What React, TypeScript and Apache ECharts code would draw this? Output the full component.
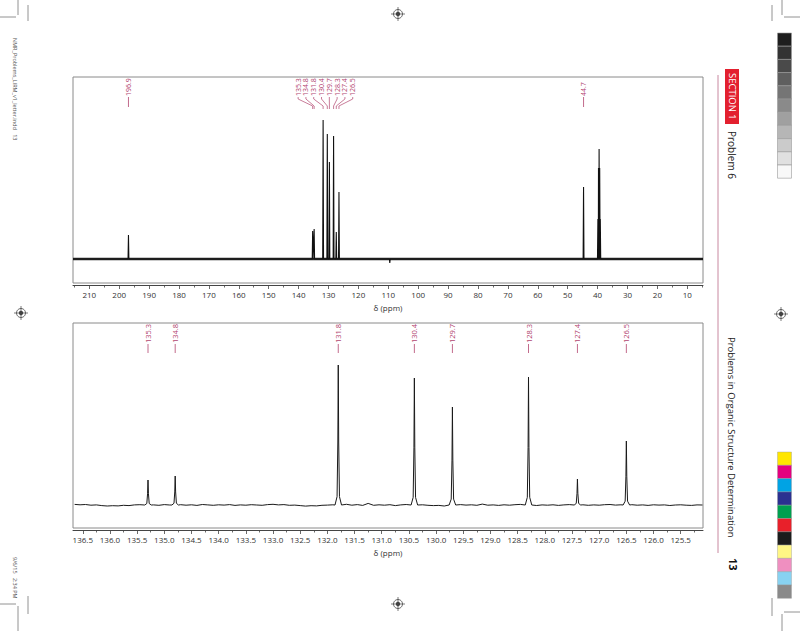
import React, { useEffect, useRef } from "react";
import * as echarts from "echarts";

// ---------- axis ticks ----------
const topTickLabels = [210, 200, 190, 180, 170, 160, 150, 140, 130, 120, 110, 100, 90, 80, 70, 60, 50, 40, 30, 20, 10];
const topMinorTicks = [215, 205, 195, 185, 175, 165, 155, 145, 135, 125, 115, 105, 95, 85, 75, 65, 55, 45, 35, 25, 15, 5];
const bottomTickLabels = [136.5, 136.0, 135.5, 135.0, 134.5, 134.0, 133.5, 133.0, 132.5, 132.0, 131.5, 131.0, 130.5, 130.0, 129.5, 129.0, 128.5, 128.0, 127.5, 127.0, 126.5, 126.0, 125.5];
const bottomMinorTicks = [136.25, 135.75, 135.25, 134.75, 134.25, 133.75, 133.25, 132.75, 132.25, 131.75, 131.25, 130.75, 130.25, 129.75, 129.25, 128.75, 128.25, 127.75, 127.25, 126.75, 126.25, 125.75, 125.25];

// ---------- full spectrum (top) ----------
const topPeakPpm = [196.9, 135.3, 134.8, 131.8, 130.4, 129.7, 128.3, 127.4, 126.5, 109.5, 44.7, 39.9, 39.7, 39.5, 39.3, 39.1];
const topPeakHeight = [24, 28, 30, 139, 125, 97, 123, 27, 67, -4, 72, 40, 91, 110, 91, 40];
const topLabelGroups = [[196.9], [135.3, 134.8, 131.8, 130.4, 129.7, 128.3, 127.4, 126.5], [44.7]];

// ---------- expansion (bottom) ----------
const bottomPeakPpm = [135.3, 134.8, 131.8, 130.4, 129.7, 128.3, 127.4, 126.5];
const bottomPeakHeight = [25, 29, 140, 127, 98, 128, 26, 64];
const bottomBaselinePpm = [136.65, 136.55, 136.45, 136.35, 136.25, 136.15, 136.05, 135.95, 135.85, 135.75, 135.65, 135.55, 135.45, 135.2, 135.1, 135.0, 134.9, 134.7, 134.6, 134.5, 134.4, 134.3, 134.2, 134.1, 134.0, 133.9, 133.8, 133.7, 133.6, 133.5, 133.4, 133.3, 133.2, 133.1, 133.0, 132.9, 132.8, 132.7, 132.6, 132.5, 132.4, 132.3, 132.2, 132.1, 132.0, 131.9, 131.65, 131.55, 131.45, 131.35, 131.25, 131.15, 131.05, 130.95, 130.85, 130.75, 130.65, 130.55, 130.25, 130.15, 130.05, 129.95, 129.85, 129.55, 129.45, 129.35, 129.25, 129.15, 129.05, 128.95, 128.85, 128.75, 128.65, 128.55, 128.45, 128.15, 128.05, 127.95, 127.85, 127.75, 127.65, 127.55, 127.3, 127.2, 127.1, 127.0, 126.9, 126.8, 126.7, 126.6, 126.4, 126.3, 126.2, 126.1, 126.0, 125.9, 125.8, 125.7, 125.6, 125.5, 125.4, 125.3, 125.2, 125.1];
const bottomBaselineOffset = [0.6, 0.2, 0.5, -0.2, 0.1, -0.6, -1.0, -0.7, -0.9, -0.3, -0.6, 0.1, 0.3, 0.1, -0.3, 0.4, 0.0, 0.3, -0.2, 0.2, -0.4, 0.5, 0.1, -0.3, 0.2, -0.1, 0.4, -0.4, 0.1, -0.2, 0.3, 0.0, -0.3, 0.4, 0.7, 0.1, 0.4, -0.3, -0.1, -0.6, -1.1, -0.7, -0.9, -0.3, -0.1, 0.2, 0.7, -0.2, 0.4, -0.4, 1.6, -0.3, 0.2, -0.2, 0.3, -0.6, 0.1, 0.5, 0.2, -0.3, -0.6, -0.4, -1.0, 0.4, -0.1, 0.2, -0.3, 0.9, -0.2, 0.1, -0.4, 0.2, -0.2, 0.3, 0.6, -0.5, 0.1, -0.2, 0.2, -0.4, 0.1, 0.4, 0.2, -0.3, 0.1, -0.2, 0.3, 0.5, -0.1, 0.2, 0.3, -0.2, 0.1, -0.4, 0.2, -0.1, 0.1, -0.5, 0.0, 0.2, -0.2, -0.4, 0.1, 0.0];

const TOP_MIN = 4.75, TOP_MAX = 215.45;
const BOT_MIN = 125.09, BOT_MAX = 136.68;
const LABEL_COLOR = "#b2456f";
const FONT = '"Open Sans", "Noto Sans", sans-serif';

function buildTopPeaks() {
  const idx = topPeakPpm.map((_, i) => i).sort((a, b) => topPeakPpm[b] - topPeakPpm[a]);
  const pts: number[][] = [[TOP_MAX, 0]];
  idx.forEach((i) => {
    const p = topPeakPpm[i], h = topPeakHeight[i];
    pts.push([p + 0.14, 0], [p, h], [p - 0.14, 0]);
  });
  pts.push([TOP_MIN, 0]);
  return pts;
}
function buildTopBaseline() {
  return [[TOP_MAX, 0], [TOP_MIN, 0]];
}

function buildBottomTrace() {
  const pts: number[][] = [];
  bottomBaselinePpm.forEach((p, i) => {
    if (bottomPeakPpm.every((q) => Math.abs(q - p) > 0.07)) pts.push([p, bottomBaselineOffset[i]]);
  });
  bottomPeakPpm.forEach((p, i) => {
    const h = bottomPeakHeight[i];
    pts.push([p + 0.06, 0], [p + 0.022, h * 0.06], [p + 0.008, h * 0.45], [p, h], [p - 0.008, h * 0.45], [p - 0.022, h * 0.06], [p - 0.06, 0]);
  });
  pts.sort((a, b) => b[0] - a[0]);
  return pts;
}

function topLabelData() {
  const out: number[][] = [];
  topLabelGroups.forEach((g) => {
    const mean = g.reduce((s, v) => s + v, 0) / g.length;
    g.forEach((p, i) => out.push([p, mean, i, g.length, 0]));
  });
  return out;
}
function bottomLabelData() {
  return bottomPeakPpm.map((p) => [p, p, 0, 1, 0]);
}

function makeLabelRender(textOff: number, lineEnd: number, fontSize: number) {
  return (params: any, api: any) => {
    const ppm = api.value(0), mean = api.value(1), i = api.value(2), n = api.value(3);
    const cs = params.coordSys;
    const peakX = api.coord([ppm, 0])[0];
    const cx = api.coord([mean, 0])[0];
    const lx = n > 1 ? cx - 1.5 + (i - (n - 1) / 2) * 7.8 : peakX;
    const tb = cs.y + textOff;
    const children: any[] = [
      {
        type: "text",
        x: lx,
        y: tb,
        rotation: Math.PI / 2,
        style: { text: ppm.toFixed(1), fill: LABEL_COLOR, fontSize, fontFamily: FONT, align: "left", verticalAlign: "middle" },
      },
    ];
    if (n > 1) {
      children.push({
        type: "polyline",
        shape: { points: [[lx, tb + 1], [lx, tb + 3], [peakX, tb + 10], [peakX, tb + 13]] },
        style: { stroke: LABEL_COLOR, lineWidth: 0.7, fill: "none" },
      });
    } else {
      children.push({
        type: "line",
        shape: { x1: lx, y1: tb + 1, x2: lx, y2: cs.y + lineEnd },
        style: { stroke: LABEL_COLOR, lineWidth: 0.8 },
      });
    }
    return { type: "group", children };
  };
}

function regMark(x: number, y: number) {
  return {
    type: "group",
    x,
    y,
    children: [
      { type: "circle", shape: { cx: 0, cy: 0, r: 4.5 }, style: { stroke: "#444", lineWidth: 0.8, fill: "none" } },
      { type: "circle", shape: { cx: 0, cy: 0, r: 2.2 }, style: { fill: "#444" } },
      { type: "line", shape: { x1: -7, y1: 0, x2: 7, y2: 0 }, style: { stroke: "#444", lineWidth: 0.7 } },
      { type: "line", shape: { x1: 0, y1: -7, x2: 0, y2: 7 }, style: { stroke: "#444", lineWidth: 0.7 } },
    ],
  };
}

function cropLine(x1: number, y1: number, x2: number, y2: number) {
  return { type: "line", shape: { x1, y1, x2, y2 }, style: { stroke: "#777", lineWidth: 0.8 } };
}

const grayScale = ["#1e1e1e", "#333333", "#4a4a4a", "#5f5f5f", "#757575", "#8a8a8a", "#a0a0a0", "#b6b6b6", "#cbcbcb", "#e0e0e0", "#f8f8f8"];
const colorScale = ["#ffe600", "#e4007f", "#00a3e4", "#2b3190", "#00a04f", "#e8202a", "#1c1c1c", "#fff685", "#ef8fc0", "#88d2f1", "#8a8a8a"];

function pageGraphics() {
  const g: any[] = [];
  grayScale.forEach((c, i) => {
    g.push({ type: "rect", shape: { x: 777.5, y: 33 + i * 13.2, width: 14, height: 13.2 }, style: { fill: c, stroke: "#999", lineWidth: 0.6 } });
  });
  colorScale.forEach((c, i) => {
    g.push({ type: "rect", shape: { x: 777.5, y: 452 + i * 13.3, width: 14, height: 13.3 }, style: { fill: c, stroke: "#999", lineWidth: 0.4 } });
  });
  g.push(regMark(398, 14), regMark(21, 313), regMark(781, 314), regMark(398, 604));
  // crop marks
  g.push(cropLine(0, 17, 16, 17), cropLine(18, 0, 18, 15), cropLine(28, 5, 28, 21));
  g.push(cropLine(0, 604, 16, 604), cropLine(18, 606, 18, 631), cropLine(28, 596, 28, 614));
  g.push(cropLine(784, 17, 800, 17), cropLine(782, 0, 782, 15), cropLine(772, 5, 772, 21));
  g.push(cropLine(784, 612, 800, 612), cropLine(782, 614, 782, 631), cropLine(772, 598, 772, 616));
  // vertical rule
  g.push({ type: "line", shape: { x1: 718, y1: 75, x2: 718, y2: 553 }, style: { stroke: "#c27a95", lineWidth: 0.9 } });
  // section tab
  g.push({ type: "rect", shape: { x: 725, y: 69, width: 14, height: 55 }, style: { fill: "#e3202f" } });
  g.push({ type: "text", x: 732, y: 73, rotation: -Math.PI / 2, style: { text: "SECTION 1", fill: "#fff", fontSize: 9.5, fontFamily: FONT, align: "left", verticalAlign: "middle" } });
  g.push({ type: "text", x: 732, y: 131, rotation: -Math.PI / 2, style: { text: "Problem 6", fill: "#222", fontSize: 10, fontFamily: FONT, align: "left", verticalAlign: "middle" } });
  g.push({ type: "text", x: 731, y: 337, rotation: -Math.PI / 2, style: { text: "Problems in Organic Structure Determination", fill: "#222", fontSize: 9.5, fontFamily: FONT, align: "left", verticalAlign: "middle" } });
  g.push({ type: "text", x: 733, y: 558, rotation: -Math.PI / 2, style: { text: "13", fill: "#111", fontSize: 11, fontWeight: "bold", fontFamily: FONT, align: "left", verticalAlign: "middle" } });
  // slug
  g.push({ type: "text", x: 15, y: 38, rotation: -Math.PI / 2, style: { text: "NMR_Problems_LIRM_v1_letter.indd   13", fill: "#555", fontSize: 5.5, fontFamily: FONT, align: "left", verticalAlign: "middle" } });
  g.push({ type: "text", x: 15, y: 557, rotation: -Math.PI / 2, style: { text: "9/6/15   2:34 PM", fill: "#555", fontSize: 5.5, fontFamily: FONT, align: "left", verticalAlign: "middle" } });
  return g;
}

function xAxes(gridIndex: number, min: number, max: number, labels: number[], minor: number[], fmt: (v: number) => string) {
  return [
    {
      type: "value",
      gridIndex,
      min,
      max,
      inverse: true,
      position: "bottom",
      offset: 2,
      name: "δ (ppm)",
      nameLocation: "middle",
      nameGap: 18,
      nameTextStyle: { fontSize: 8, color: "#333", fontFamily: FONT },
      axisLine: { show: true, onZero: false, lineStyle: { color: "#444", width: 1 } },
      axisTick: { show: true, length: 4, customValues: labels, lineStyle: { color: "#444", width: 0.8 } },
      axisLabel: { show: true, customValues: labels, formatter: (v: number) => fmt(v), fontSize: 8, color: "#333", margin: 5, fontFamily: FONT },
      splitLine: { show: false },
    },
    {
      type: "value",
      gridIndex,
      min,
      max,
      inverse: true,
      position: "bottom",
      offset: 2,
      axisLine: { show: false, onZero: false },
      axisTick: { show: true, length: 2.5, customValues: minor, lineStyle: { color: "#444", width: 0.8 } },
      axisLabel: { show: false },
      splitLine: { show: false },
    },
  ];
}

export default function App() {
  const ref = useRef<HTMLDivElement>(null);
  useEffect(() => {
    if (!ref.current) return;
    const chart = echarts.init(ref.current, undefined, { renderer: "svg" });
    chart.setOption({
      animation: false,
      backgroundColor: "#ffffff",
      textStyle: { fontFamily: FONT },
      grid: [
        { left: 73, top: 77, width: 630, height: 206, show: true, borderColor: "#8a8a8a", borderWidth: 1, backgroundColor: "transparent" },
        { left: 73, top: 323, width: 630, height: 205, show: true, borderColor: "#8a8a8a", borderWidth: 1, backgroundColor: "transparent" },
      ],
      xAxis: [
        ...xAxes(0, TOP_MIN, TOP_MAX, topTickLabels, topMinorTicks, (v) => String(Math.round(v))),
        ...xAxes(1, BOT_MIN, BOT_MAX, bottomTickLabels, bottomMinorTicks, (v) => v.toFixed(1)),
      ],
      yAxis: [
        { type: "value", gridIndex: 0, min: -24, max: 182, show: false },
        { type: "value", gridIndex: 1, min: -23, max: 182, show: false },
      ],
      series: [
        {
          type: "line",
          xAxisIndex: 0,
          yAxisIndex: 0,
          data: buildTopBaseline(),
          showSymbol: false,
          symbol: "none",
          lineStyle: { color: "#2a2a2a", width: 2.6 },
          silent: true,
        },
        {
          type: "line",
          xAxisIndex: 0,
          yAxisIndex: 0,
          data: buildTopPeaks(),
          showSymbol: false,
          symbol: "none",
          lineStyle: { color: "#111", width: 1.1 },
          silent: true,
        },
        {
          type: "line",
          xAxisIndex: 2,
          yAxisIndex: 1,
          data: buildBottomTrace(),
          showSymbol: false,
          symbol: "none",
          lineStyle: { color: "#1a1a1a", width: 1 },
          silent: true,
        },
        {
          type: "custom",
          xAxisIndex: 0,
          yAxisIndex: 0,
          coordinateSystem: "cartesian2d",
          clip: false,
          encode: { x: 0, y: 4 },
          renderItem: makeLabelRender(19, 30, 7),
          data: topLabelData(),
          silent: true,
        },
        {
          type: "custom",
          xAxisIndex: 2,
          yAxisIndex: 1,
          coordinateSystem: "cartesian2d",
          clip: false,
          encode: { x: 0, y: 4 },
          renderItem: makeLabelRender(20, 30, 7.5),
          data: bottomLabelData(),
          silent: true,
        },
      ],
      graphic: pageGraphics(),
    });
    return () => chart.dispose();
  }, []);
  return <div ref={ref} style={{ position: "fixed", left: 0, top: 0, width: 800, height: 631 }} />;
}
